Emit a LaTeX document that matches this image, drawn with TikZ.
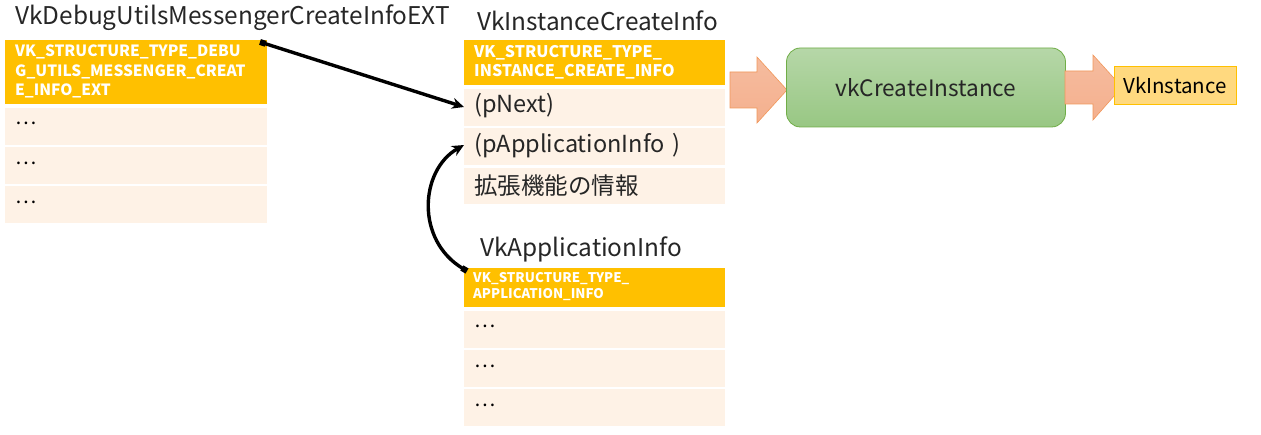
\documentclass[tikz,border=0pt]{standalone}
\usepackage{fontspec}
\setmainfont{Noto Sans CJK JP}
\usetikzlibrary{arrows.meta}
\definecolor{hdr}{HTML}{FFC000}
\definecolor{rowc}{HTML}{FEF2E6}
\definecolor{arrf}{HTML}{F4B08E}
\definecolor{arrd}{HTML}{ED7D31}
\definecolor{grnt}{HTML}{B6D7A8}
\definecolor{grnb}{HTML}{98C783}
\definecolor{grnd}{HTML}{70AD47}
\definecolor{instf}{HTML}{FFD97F}
\tikzset{
  hdrbox/.style={fill=hdr, draw=none},
  rowbox/.style={fill=rowc, draw=none},
  hdrtext/.style={anchor=north west, text=white, font=\fontsize{15.5}{19.5}\selectfont\bfseries, align=left, inner sep=0pt},
  rowtext/.style={anchor=west, font=\fontsize{23.5}{26}\selectfont, inner sep=0pt, text=black!85},
  dots/.style={anchor=west, font=\fontsize{20}{22}\selectfont, inner sep=0pt},
  title/.style={anchor=south west, font=\fontsize{24.4}{28}\selectfont, inner sep=0pt, text=black!85},
  blockarrow/.style={draw=arrd!80, line width=0.6pt, top color=arrf!85, bottom color=arrf},
  conn/.style={line width=3.4pt, black}
}
\begin{document}
\begin{tikzpicture}[x=1pt,y=-1pt]
\useasboundingbox (0,0) rectangle (1261,435);
% titles
\node[title] (t1) at (15,31) {VkDebugUtilsMessengerCreateInfoEXT};
\node[title] (t2) at (477,31) {VkInstanceCreateInfo};
\node[title] (t3) at (480,262) {VkApplicationInfo};
% left table
\fill[hdrbox] (5,40) rectangle (267,104);
\node[hdrtext] (h1) at (15,45) {VK\_STRUCTURE\_TYPE\_DEBU\\G\_UTILS\_MESSENGER\_CREAT\\E\_INFO\_EXT};
\fill[rowbox] (5,108) rectangle (267,145);
\fill[rowbox] (5,147) rectangle (267,184);
\fill[rowbox] (5,186) rectangle (267,223);
\node[dots] (l1) at (15,123) {…};
\node[dots] (l2) at (15,163) {…};
\node[dots] (l3) at (15,202) {…};
% middle table
\fill[hdrbox] (464,40) rectangle (725,85);
\node[hdrtext, font=\fontsize{16}{19.5}\selectfont\bfseries] (h2) at (474,45) {VK\_STRUCTURE\_TYPE\_\\INSTANCE\_CREATE\_INFO};
\fill[rowbox] (464,89) rectangle (725,126);
\fill[rowbox] (464,128) rectangle (725,165);
\fill[rowbox] (464,168) rectangle (725,204);
\node[rowtext] (pnext) at (474,106) {(pNext)};
\node[rowtext] (pappl) at (474,146) {(pApplicationInfo\hspace{8pt})};
\node[rowtext] (ext) at (474,186) {拡張機能の情報};
% application info table
\fill[hdrbox] (464,268) rectangle (725,307);
\node[hdrtext, font=\fontsize{13.3}{16}\selectfont\bfseries] (h3) at (473,272) {VK\_STRUCTURE\_TYPE\_\\APPLICATION\_INFO};
\fill[rowbox] (464,311) rectangle (725,348);
\fill[rowbox] (464,350) rectangle (725,387);
\fill[rowbox] (464,389) rectangle (725,426);
\node[dots] (a1) at (474,326) {…};
\node[dots] (a2) at (474,366) {…};
\node[dots] (a3) at (474,405) {…};
% block arrow 1
\path[blockarrow] (730,72) -- (757,72) -- (757,57) -- (787,90) -- (757,123) -- (757,108) -- (730,108) -- cycle;
% green box
\node[draw=grnd, line width=0.8pt, rounded corners=14pt, top color=grnt, bottom color=grnb, minimum width=279pt, minimum height=79pt, inner sep=0pt, font=\fontsize{22.6}{26}\selectfont, text=black!85] (vkc) at (926,87.5) {vkCreateInstance};
% block arrow 2
\path[blockarrow] (1065,71) -- (1093,71) -- (1093,55) -- (1122,87) -- (1093,120) -- (1093,104) -- (1065,104) -- cycle;
% VkInstance
\node[draw=hdr, line width=0.8pt, fill=instf, minimum width=122pt, minimum height=38pt, inner sep=0pt, font=\fontsize{20.5}{24}\selectfont] (vki) at (1175,85) {VkInstance};
% connectors
\coordinate (dbgptr) at (260,42);
\coordinate (pnextin) at (464,107);
\coordinate (appptr) at (467,271);
\coordinate (pappin) at (464,145);
\draw[conn, {Square[length=6pt,width=6pt]}-{Stealth[length=12pt,width=11pt]}] (dbgptr) -- (pnextin);
\draw[conn, {Square[length=6pt,width=6pt]}-{Stealth[length=12pt,width=11pt]}] (appptr) .. controls (415,240) and (420,170) .. (pappin);
\end{tikzpicture}
\end{document}
